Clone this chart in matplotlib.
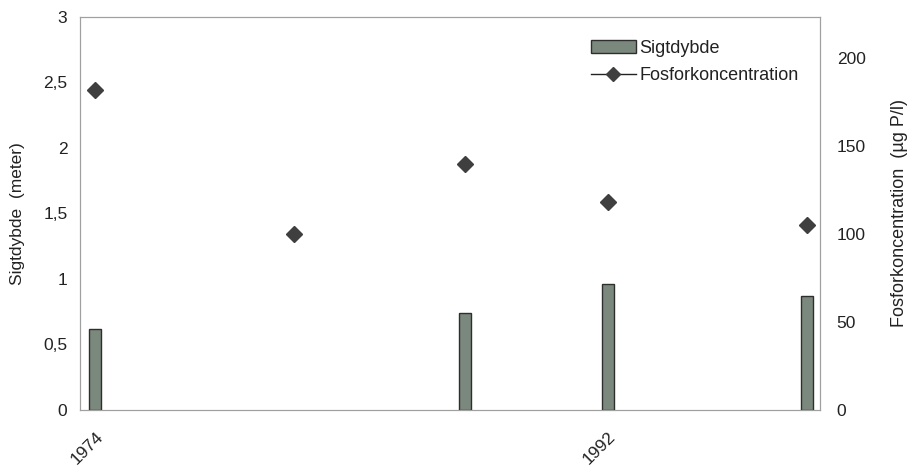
import matplotlib
matplotlib.use("Agg")
import matplotlib.pyplot as plt
from matplotlib.lines import Line2D
from matplotlib.patches import Patch

plt.rcParams['font.family'] = ['Liberation Sans', 'DejaVu Sans']

# Secchi depth (m) and phosphorus concentration (µg P/l) by year
sigt_years = [1974, 1987, 1992, 1999]
sigtdybde = [0.62, 0.74, 0.96, 0.87]
fosfor_years = [1974, 1981, 1987, 1992, 1999]
fosfor = [182, 100, 140, 118, 105]
xtick_years = [1974, 1992]

fig = plt.figure(figsize=(9.12, 4.68), dpi=100)
ax = fig.add_axes([0.0877, 0.124, 0.8114, 0.8397])
ax2 = ax.twinx()

bar_color = '#7b887d'
edge_color = '#2e2e2e'
marker_color = '#3f3f3f'
spine_color = '#a0a0a0'
text_color = '#222222'

ax.bar(sigt_years, sigtdybde, width=0.42, color=bar_color,
       edgecolor=edge_color, linewidth=1.0, zorder=2)
ax2.plot(fosfor_years, fosfor, linestyle='none', marker='D', markersize=8.5,
         color=marker_color, zorder=3)

ax.set_xlim(1973.47, 1999.46)
ax.set_ylim(0, 3)
ax2.set_ylim(0, 223.5)

ax.set_yticks([0, 0.5, 1, 1.5, 2, 2.5, 3])
ax.set_yticklabels(['0', '0,5', '1', '1,5', '2', '2,5', '3'])
ax2.set_yticks([0, 50, 100, 150, 200])
ax.set_xticks(xtick_years)
ax.set_xticklabels([str(y) for y in xtick_years], rotation=45, ha='right',
                   rotation_mode='anchor')

for a in (ax, ax2):
    a.tick_params(axis='both', length=0, labelsize=12.5, colors=text_color)
    for s in a.spines.values():
        s.set_color(spine_color)
        s.set_linewidth(0.8)
ax.tick_params(axis='y', pad=9)
ax2.tick_params(axis='y', pad=12)
ax.tick_params(axis='x', pad=14)

ax.set_ylabel('Sigtdybde  (meter)', fontsize=12.5, color=text_color,
              va='center')
ax.yaxis.set_label_coords(-0.084, 0.5)
ax2.set_ylabel('Fosforkoncentration  (µg P/l)', fontsize=13, color=text_color,
               rotation=90, va='center')
ax2.yaxis.set_label_coords(1.108, 0.5)

handles = [
    Patch(facecolor=bar_color, edgecolor=edge_color, linewidth=1.0),
    Line2D([0], [0], color=text_color, linewidth=1.0, marker='D',
           markersize=7, markerfacecolor=marker_color,
           markeredgecolor=marker_color),
]
leg = ax.legend(handles, ['Sigtdybde', 'Fosforkoncentration'],
                loc='upper right', bbox_to_anchor=(0.993, 0.983),
                frameon=False, fontsize=13, handlelength=2.5,
                handletextpad=0.2, labelspacing=0.55)
for t in leg.get_texts():
    t.set_color(text_color)
ax.set_zorder(ax2.get_zorder() + 1)
ax.patch.set_visible(False)

fig.savefig('out.png', dpi=100)
